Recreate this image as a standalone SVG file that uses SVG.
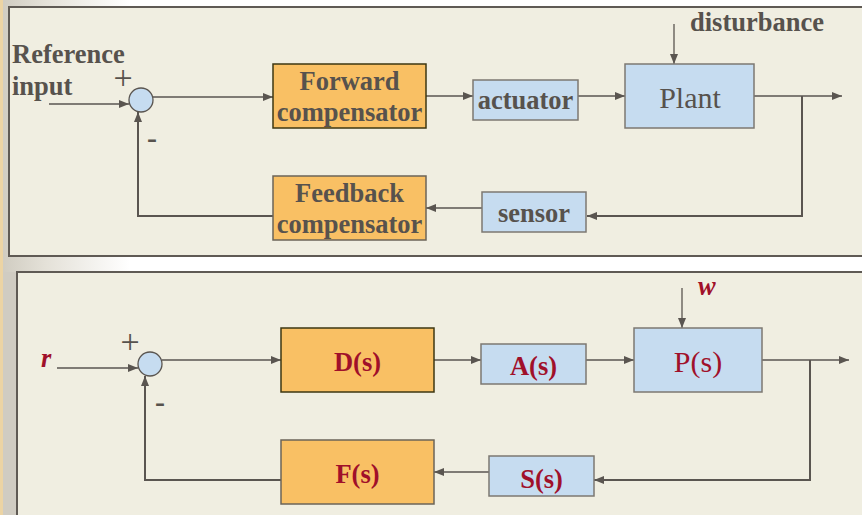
<svg xmlns="http://www.w3.org/2000/svg" width="862" height="515" viewBox="0 0 862 515">
  <defs>
    <linearGradient id="edge" x1="0" y1="0" x2="1" y2="0">
      <stop offset="0" stop-color="#cfcbc0"/>
      <stop offset="0.35" stop-color="#e4e1d8"/>
      <stop offset="1" stop-color="#ffffff"/>
    </linearGradient>
    <marker id="arrow" viewBox="0 0 10 8" refX="10" refY="4" markerWidth="10" markerHeight="8" markerUnits="userSpaceOnUse" orient="auto">
      <path d="M0,0 L10,4 L0,8 z" fill="#5a5550"/>
    </marker>
    <style>
      .panel { fill: #f0eee1; stroke: #5f5a54; stroke-width: 2; }
      .orange { fill: #f9c064; stroke: #6b6458; stroke-width: 1.5; }
      .orange-dark { fill: #f9c064; stroke: #3d3712; stroke-width: 1.5; }
      .blue { fill: #c6dcf0; stroke: #7c7872; stroke-width: 1.5; }
      .sum { fill: #c6dcf0; stroke: #5a5550; stroke-width: 1.3; }
      .wire { fill: none; stroke: #5a5550; stroke-width: 1.3; }
      .wire-heavy { fill: none; stroke: #5a5550; stroke-width: 2; }
      .lbl { font-family: "Liberation Serif", "Times New Roman", serif; font-weight: bold; font-size: 26.5px; fill: #57524d; }
      .lbl-plain { font-family: "Liberation Serif", "Times New Roman", serif; font-size: 30px; fill: #57524d; }
      .sign { font-family: "Liberation Serif", "Times New Roman", serif; font-size: 34px; fill: #57524d; }
      .dash { font-family: "Liberation Serif", "Times New Roman", serif; font-weight: bold; font-size: 30px; fill: #57524d; }
      .sym { font-family: "Liberation Serif", "Times New Roman", serif; font-weight: bold; font-size: 26.5px; fill: #a0102a; }
      .sym-plain { font-family: "Liberation Serif", "Times New Roman", serif; font-size: 30px; fill: #a0102a; }
      .var { font-family: "Liberation Serif", "Times New Roman", serif; font-weight: bold; font-style: italic; font-size: 26.5px; fill: #a0102a; }
      .mid { text-anchor: middle; }
    </style>
  </defs>

  <!-- page background -->
  <rect x="0" y="0" width="862" height="515" fill="#ffffff"/>
  <rect x="0" y="0" width="130" height="515" fill="url(#edge)"/>
  <rect x="3" y="272" width="14" height="243" fill="#d0ccc2"/>
  <rect x="0" y="0" width="3" height="515" fill="#ecd4a4"/>

  <!-- panels -->
  <rect class="panel" x="9" y="7" width="856" height="249"/>
  <rect class="panel" x="17" y="272" width="848" height="246"/>

  <!-- ===== upper diagram: named blocks ===== -->
  <g id="connectors-top">
    <line class="wire" x1="49" y1="104" x2="129" y2="104" marker-end="url(#arrow)"/>
    <line class="wire" x1="153" y1="97" x2="273" y2="97" marker-end="url(#arrow)"/>
    <line class="wire" x1="426" y1="96" x2="473" y2="96" marker-end="url(#arrow)"/>
    <line class="wire" x1="578" y1="96" x2="625" y2="96" marker-end="url(#arrow)"/>
    <line class="wire" x1="674" y1="24" x2="674" y2="64" marker-end="url(#arrow)"/>
    <line class="wire" x1="754" y1="96" x2="842" y2="96" marker-end="url(#arrow)"/>
    <polyline class="wire-heavy" points="802,96 802,216 587,216" marker-end="url(#arrow)"/>
    <line class="wire" x1="482" y1="208" x2="426" y2="208" marker-end="url(#arrow)"/>
    <polyline class="wire-heavy" points="273,216 138,216 138,112" marker-end="url(#arrow)"/>
  </g>

  <g id="reference-input">
    <text class="lbl" x="12" y="63">Reference</text>
    <text class="lbl" x="12" y="95">input</text>
  </g>
  <g id="sum-top">
    <circle class="sum" cx="141" cy="100" r="12"/>
    <text class="sign mid" x="123" y="89">+</text>
    <text class="dash mid" x="152" y="148">-</text>
  </g>
  <g id="forward-compensator">
    <rect class="orange-dark" x="273" y="64" width="153" height="64"/>
    <text class="lbl mid" x="349.5" y="90">Forward</text>
    <text class="lbl mid" x="349.5" y="121">compensator</text>
  </g>
  <g id="actuator">
    <rect class="blue" x="473" y="80" width="105" height="40"/>
    <text class="lbl mid" x="525.5" y="109">actuator</text>
  </g>
  <g id="plant">
    <rect class="blue" x="625" y="64" width="129" height="64"/>
    <text class="lbl-plain mid" x="690" y="108">Plant</text>
  </g>
  <g id="disturbance">
    <text class="lbl" x="690" y="31">disturbance</text>
  </g>
  <g id="sensor">
    <rect class="blue" x="482" y="192" width="104" height="40"/>
    <text class="lbl mid" x="534" y="222">sensor</text>
  </g>
  <g id="feedback-compensator">
    <rect class="orange" x="273" y="176" width="153" height="64"/>
    <text class="lbl mid" x="349.5" y="202">Feedback</text>
    <text class="lbl mid" x="349.5" y="233">compensator</text>
  </g>

  <!-- ===== lower diagram: transfer functions ===== -->
  <g id="connectors-bottom">
    <line class="wire" x1="57" y1="368" x2="138" y2="368" marker-end="url(#arrow)"/>
    <line class="wire" x1="162" y1="360" x2="281" y2="360" marker-end="url(#arrow)"/>
    <line class="wire" x1="434" y1="360" x2="481" y2="360" marker-end="url(#arrow)"/>
    <line class="wire" x1="586" y1="360" x2="634" y2="360" marker-end="url(#arrow)"/>
    <line class="wire" x1="682" y1="288" x2="682" y2="328" marker-end="url(#arrow)"/>
    <line class="wire" x1="762" y1="360" x2="849" y2="360" marker-end="url(#arrow)"/>
    <polyline class="wire-heavy" points="810,360 810,480 594,480" marker-end="url(#arrow)"/>
    <line class="wire" x1="489" y1="472" x2="434" y2="472" marker-end="url(#arrow)"/>
    <polyline class="wire-heavy" points="281,480 145,480 145,376" marker-end="url(#arrow)"/>
  </g>

  <g id="input-r">
    <text class="var" x="41" y="367">r</text>
  </g>
  <g id="sum-bottom">
    <circle class="sum" cx="150" cy="364" r="12"/>
    <text class="sign mid" x="130" y="353">+</text>
    <text class="dash mid" x="160" y="412">-</text>
  </g>
  <g id="block-D">
    <rect class="orange-dark" x="281" y="328" width="153" height="64"/>
    <text class="sym mid" x="357.5" y="371">D(s)</text>
  </g>
  <g id="block-A">
    <rect class="blue" x="481" y="344" width="105" height="40"/>
    <text class="sym mid" x="533.5" y="375">A(s)</text>
  </g>
  <g id="block-P">
    <rect class="blue" x="634" y="328" width="128" height="64"/>
    <text class="sym-plain mid" x="698" y="372">P(s)</text>
  </g>
  <g id="input-w">
    <text class="var" x="698" y="295">w</text>
  </g>
  <g id="block-S">
    <rect class="blue" x="489" y="456" width="105" height="40"/>
    <text class="sym mid" x="541.5" y="488">S(s)</text>
  </g>
  <g id="block-F">
    <rect class="orange" x="281" y="440" width="153" height="64"/>
    <text class="sym mid" x="357.5" y="483">F(s)</text>
  </g>
</svg>
